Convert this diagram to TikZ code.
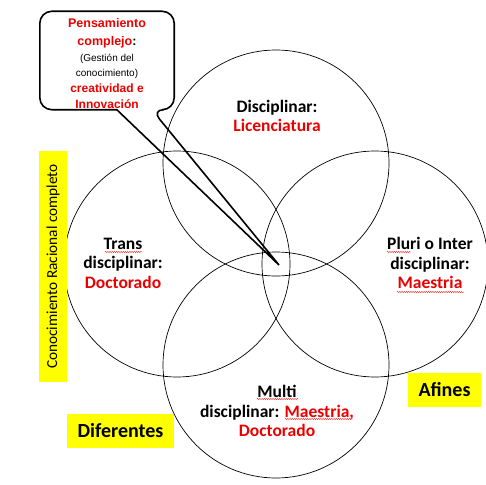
\documentclass[tikz,border=0pt]{standalone}
\usepackage{fontspec}
\setmainfont{Carlito}
\newfontfamily\arialfont{Liberation Sans}
\usetikzlibrary{calc,decorations.pathmorphing}
\definecolor{rojo}{RGB}{235,0,0}
\definecolor{amarillo}{RGB}{255,255,0}

\begin{document}
\begin{tikzpicture}[x=1pt, y=-1pt,
  ring/.style={draw, circle, minimum size=226pt, inner sep=0pt, line width=0.7pt},
  lbl/.style={align=center, font=\fontsize{17.5}{19.5}\selectfont\bfseries},
  tag/.style={fill=amarillo, inner sep=0pt, font=\fontsize{20}{22}\selectfont\bfseries},
  squiggle/.style={draw=rojo!80, line width=0.4pt, decorate,
    decoration={snake, segment length=2.2pt, amplitude=0.7pt}}]
\useasboundingbox (0,0) rectangle (486,484);
% the four circles
\node[ring] (top) at (276,163) {};
\node[ring] (left) at (177,264) {};
\node[ring] (right) at (375,264) {};
\node[ring] (bottom) at (276,365) {};
\node[lbl] (disc) at (277,116) {Disciplinar:\\\textcolor{rojo}{Licenciatura}};
\node[lbl] (trans) at (123,263) {Trans\\disciplinar:\\\textcolor{rojo}{Doctorado}};
\node[lbl] (pluri) at (430,263) {Pluri o Inter\\disciplinar:\\\textcolor{rojo}{Maestria}};
\node[lbl] (multi) at (277,411) {Multi\\disciplinar: \textcolor{rojo}{Maestria,}\\\textcolor{rojo}{Doctorado}};
% spelling marks
\foreach \xa/\xb/\yy in {105/142/252, 387/411/252, 397/464/292, 257/298/399, 285/353/419}
  \path[squiggle] (\xa,\yy) -- (\xb,\yy);
% yellow labels
\node[tag, rotate=90, minimum width=231pt, minimum height=28pt,
  font=\fontsize{15.3}{17}\selectfont] (racional) at (53,266.5) {Conocimiento Racional completo};
\node[tag, minimum width=107pt, minimum height=34pt] (dif) at (120.5,431) {Diferentes};
\node[tag, minimum width=73pt, minimum height=34pt] (afin) at (444.5,390) {Afines};
% callout
\node[minimum width=134pt, minimum height=97pt, inner sep=0pt, align=center,
  font=\arialfont\bfseries\fontsize{12.5}{15.5}\selectfont] (think) at (107,63.5)
  {\textcolor{rojo}{Pensamiento}\\[3pt]
   \textcolor{rojo}{complejo}:\\
   {\fontsize{10}{11}\selectfont\mdseries (Gestión del}\\
   {\fontsize{10}{11}\selectfont\mdseries conocimiento)}\\[0.5pt]
   \textcolor{rojo}{\fontsize{12}{15}\selectfont creatividad e}\\
   \textcolor{rojo}{\fontsize{12}{15}\selectfont Innovación}};
\coordinate (tip) at (279,265);
\draw[line width=1.6pt, rounded corners=12pt] ($(think.south west)+(77,-2.5)$) -- ([yshift=2.5pt]think.south west) -- ([yshift=3.5pt]think.north west)
  -- ([yshift=3.5pt]think.north east) -- ([yshift=2.5pt]think.south east) -- ($(think.south west)+(112,-2.5)$) [sharp corners] -- (tip) -- cycle;
\end{tikzpicture}
\end{document}
